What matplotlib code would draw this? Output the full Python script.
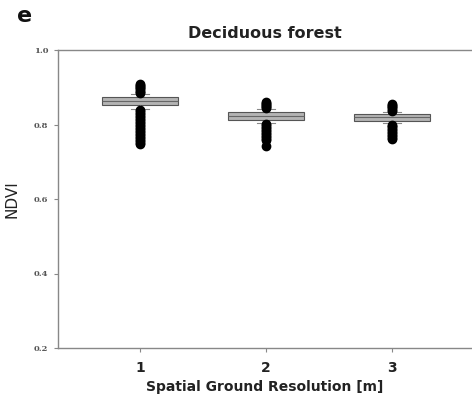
import matplotlib
matplotlib.use("Agg")
import matplotlib.pyplot as plt

categories = [1, 2, 3]
q1 = [0.852, 0.812, 0.810]
med = [0.864, 0.823, 0.819]
q3 = [0.875, 0.834, 0.828]
whislo = [0.842, 0.805, 0.803]
whishi = [0.882, 0.841, 0.834]
fliers = [
    [0.885, 0.888, 0.891, 0.894, 0.897, 0.900, 0.903, 0.906, 0.909,
     0.839, 0.835, 0.831, 0.827, 0.823, 0.819, 0.815, 0.811, 0.807, 0.803,
     0.799, 0.795, 0.791, 0.787, 0.783, 0.779, 0.775, 0.771, 0.767, 0.763,
     0.759, 0.755, 0.751, 0.747],
    [0.844, 0.847, 0.850, 0.853, 0.856, 0.859, 0.861,
     0.802, 0.798, 0.794, 0.790, 0.786, 0.782, 0.778, 0.774, 0.770, 0.766,
     0.762, 0.759, 0.742],
    [0.837, 0.840, 0.843, 0.846, 0.849, 0.852, 0.855,
     0.800, 0.796, 0.792, 0.788, 0.784, 0.780, 0.776, 0.772, 0.768, 0.764,
     0.761],
]
yticks = [0.2, 0.4, 0.6, 0.8, 1.0]
ytick_labels = ["0.2", "0.4", "0.6", "0.8", "1.0"]

fig = plt.figure(figsize=(4.72, 4.03), dpi=100)
ax = fig.add_axes([58/472, 1-348/403, 1-58/472, (348-50)/403])

stats = []
for i in range(len(categories)):
    stats.append(dict(med=med[i], q1=q1[i], q3=q3[i], whislo=whislo[i],
                      whishi=whishi[i], fliers=fliers[i]))

ax.bxp(stats, positions=categories, widths=0.6, patch_artist=True,
       boxprops=dict(facecolor="#b4b4b4", edgecolor="#555555", linewidth=0.8),
       medianprops=dict(color="#666666", linewidth=0.8),
       whiskerprops=dict(color="#888888", linewidth=0.8),
       capprops=dict(color="#888888", linewidth=0.8),
       capwidths=0.14,
       flierprops=dict(marker="o", markerfacecolor="black", markeredgecolor="black",
                       markersize=6, linestyle="none"))

ax.set_xlim(0.35, 3.635)
ax.set_ylim(0.2, 1.0)
ax.set_xticks(categories)
ax.set_xticklabels([str(c) for c in categories], fontsize=10, fontweight="bold")
ax.set_yticks(yticks)
ax.set_yticklabels(ytick_labels, fontsize=6, family="DejaVu Serif", fontweight="bold", color="#555555")
for s in ["left", "bottom", "top"]:
    ax.spines[s].set_color("#888888")
    ax.spines[s].set_linewidth(1.0)
ax.spines["right"].set_visible(False)
ax.tick_params(axis="both", colors="#888888", length=3, width=0.8)
ax.tick_params(axis="x", labelcolor="#222222", pad=6)
ax.tick_params(axis="y", labelcolor="#555555", pad=4)

ax.set_xlabel("Spatial Ground Resolution [m]", fontsize=10, fontweight="bold", color="#222222", labelpad=4)
ax.set_ylabel("NDVI", fontsize=11, color="#222222", labelpad=10)
ax.set_title("Deciduous forest", fontsize=11.5, fontweight="bold", color="#222222", pad=9)

fig.text(25/472, 1-16/403, "e", fontsize=16, fontweight="bold", ha="center", va="center", color="#111111")

fig.savefig("out.png", dpi=100)
